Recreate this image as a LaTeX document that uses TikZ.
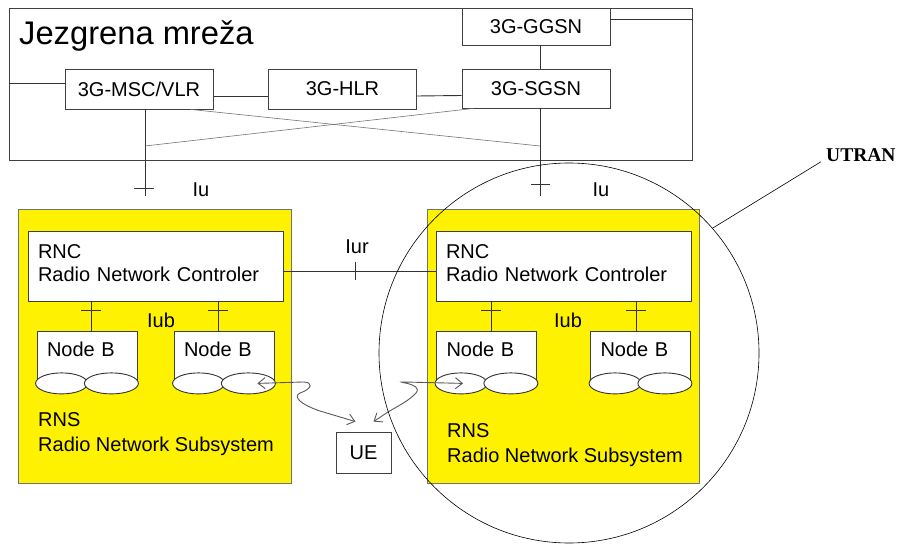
\documentclass[tikz,border=0pt]{standalone}
\usepackage{fontspec}
\setmainfont{Liberation Sans}
\newfontfamily\timesfont{Liberation Serif}
\usetikzlibrary{arrows.meta}

\tikzset{
  kutija/.style={draw=black!75, fill=white, line width=0.8pt, inner sep=0pt, font=\fontsize{20}{23.5}\selectfont},
  rns/.style={draw=black!55, fill=yellow, line width=0.8pt},
  veza/.style={draw=black!80, line width=0.9pt},
  tanka/.style={draw=black!55, line width=0.6pt},
  val/.style={draw=black!65, line width=0.9pt, {Straight Barb[length=7pt,width=11pt]}-{Straight Barb[length=7pt,width=11pt]}},
  oznaka/.style={font=\fontsize{20}{25}\selectfont, inner sep=0pt},
  nodeb/.style={kutija, minimum width=100, minimum height=52, text width=80, align=left, text height=25pt, text depth=27pt}
}

\begin{document}
\begin{tikzpicture}[x=1pt, y=-1pt]
    \useasboundingbox (0,0) rectangle (899,545);

    % Jezgrena mreza
    \node[draw=black!75, line width=0.8pt, minimum width=683, minimum height=152, inner sep=0pt] (core) at (350.5,84) {};
    \node[anchor=west, font=\fontsize{32.7}{36}\selectfont, inner sep=0pt] (naslov) at (19,36) {Jezgrena mreža};

    \node[kutija, minimum width=148, minimum height=40] (msc) at (139,89) {3G-MSC/VLR};
    \node[kutija, minimum width=148, minimum height=40] (hlr) at (342.5,89) {3G-HLR};
    \node[kutija, minimum width=148, minimum height=39] (sgsn) at (536,88.5) {3G-SGSN};
    \node[kutija, minimum width=148, minimum height=37] (ggsn) at (536,26.5) {3G-GGSN};

    % Veze u jezgri
    \coordinate (mscL) at ([yshift=6pt]msc.west);
    \coordinate (ggsnD) at ([yshift=7pt]ggsn.east);
    \draw[veza] (mscL) -- (mscL -| core.west);
    \draw[veza] ([yshift=-7pt]msc.east) -- ([yshift=-7pt]hlr.west);
    \draw[veza] ([yshift=-7pt]hlr.east) -- ([yshift=-7pt]sgsn.west);
    \draw[veza] ([xshift=4pt]ggsn.south) -- ([xshift=4pt]sgsn.north);
    \draw[veza] (ggsnD) -- (ggsnD -| core.east);

    % Iu
    \coordinate (iuL) at (145,196);
    \coordinate (iuD) at (540,196);
    \draw[veza] ([xshift=6pt]msc.south) -- (iuL);
    \draw[veza] ([xshift=4pt]sgsn.south) -- (iuD);
    \draw[veza] (iuL) ++(-11,-8) -- ++(20,0);
    \draw[veza] (iuD) ++(-9,-12) -- ++(19,0);
    \node[oznaka] (iu1) at (201,190) {Iu};
    \node[oznaka] (iu2) at (601,190) {Iu};

    % Ukrizene veze
    \coordinate (xL) at (145,146);
    \coordinate (xD) at (540,146);
    \draw[tanka] ([xshift=-23pt]msc.south east) -- (xD);
    \draw[tanka] (xL) -- ([xshift=12pt]sgsn.south west);

    % RNS
    \node[rns, minimum width=273, minimum height=274] (rnsL) at (154.5,346) {};
    \node[rns, minimum width=272, minimum height=274] (rnsD) at (563,346) {};

    \node[kutija, minimum width=255, minimum height=70, text width=235, align=left, text depth=29pt] (rncL) at (155.5,266) {RNC\\Radio Network Controler};
    \node[kutija, minimum width=255, minimum height=70, text width=235, align=left, text depth=29pt] (rncD) at (563.5,266) {RNC\\Radio Network Controler};

    % Iur
    \coordinate (iurL) at ([yshift=-5pt]rncL.east);
    \draw[veza] (iurL) -- (iurL -| rncD.west);
    \draw[veza] (355,262) -- (355,280);
    \node[oznaka] (iur) at (357,247) {Iur};

    % Node B
    \foreach \ime/\x/\dx/\rnc in {nbA/87/4/rncL, nbB/224/-6/rncL, nbC/486.5/4.5/rncD, nbD/640.5/-4.5/rncD} {
        \node[nodeb] (\ime) at (\x,357) {Node B};
        \draw[veza, fill=white] ([xshift=25pt]\ime.south west) ellipse [x radius=26, y radius=10.5];
        \draw[veza, fill=white] ([xshift=-26pt]\ime.south east) ellipse [x radius=27, y radius=10.5];
        \coordinate (t) at ([xshift=\dx pt]\ime.north);
        \draw[veza] (t) -- (t |- \rnc.south);
        \draw[veza] ([yshift=20pt]t) ++(-10,0) -- ++(20,0);
    }
    \node[oznaka] (iub1) at (161,320) {Iub};
    \node[oznaka] (iub2) at (568,320) {Iub};

    \node[oznaka, anchor=west, align=left] (rnsLtxt) at (38,434) {RNS\\Radio Network Subsystem};
    \node[oznaka, anchor=west, align=left] (rnsDtxt) at (447,445) {RNS\\Radio Network Subsystem};

    % UE
    \node[kutija, minimum width=55, minimum height=41] (ue) at (363.5,452.5) {UE};

    % Radio veze
    \draw[val] ([xshift=-17pt]nbB.south east) -- (303,382) .. controls (314,382) and (312,389) .. (300,393) .. controls (292,397) and (302,405) .. (320,411) -- ([xshift=-8pt, yshift=10pt]ue.north);
    \draw[val] ([xshift=27pt]nbC.south west) -- (404,382) .. controls (392,382) and (424,383) .. (416,393) .. controls (410,400) and (398,406) .. (388,412) -- ([xshift=10pt, yshift=10pt]ue.north);

    % UTRAN
    \node[circle, draw=black, line width=0.6pt, minimum size=380, inner sep=0pt] (utran) at (569,353) {};
    \node[anchor=west, inner sep=0pt, font=\timesfont\bfseries\fontsize{19.5}{22}\selectfont] (utranTxt) at (826,155) {UTRAN};
    \draw[line width=0.6pt] ([xshift=-5pt]utranTxt.south west) -- (utran.41);

\end{tikzpicture}
\end{document}
